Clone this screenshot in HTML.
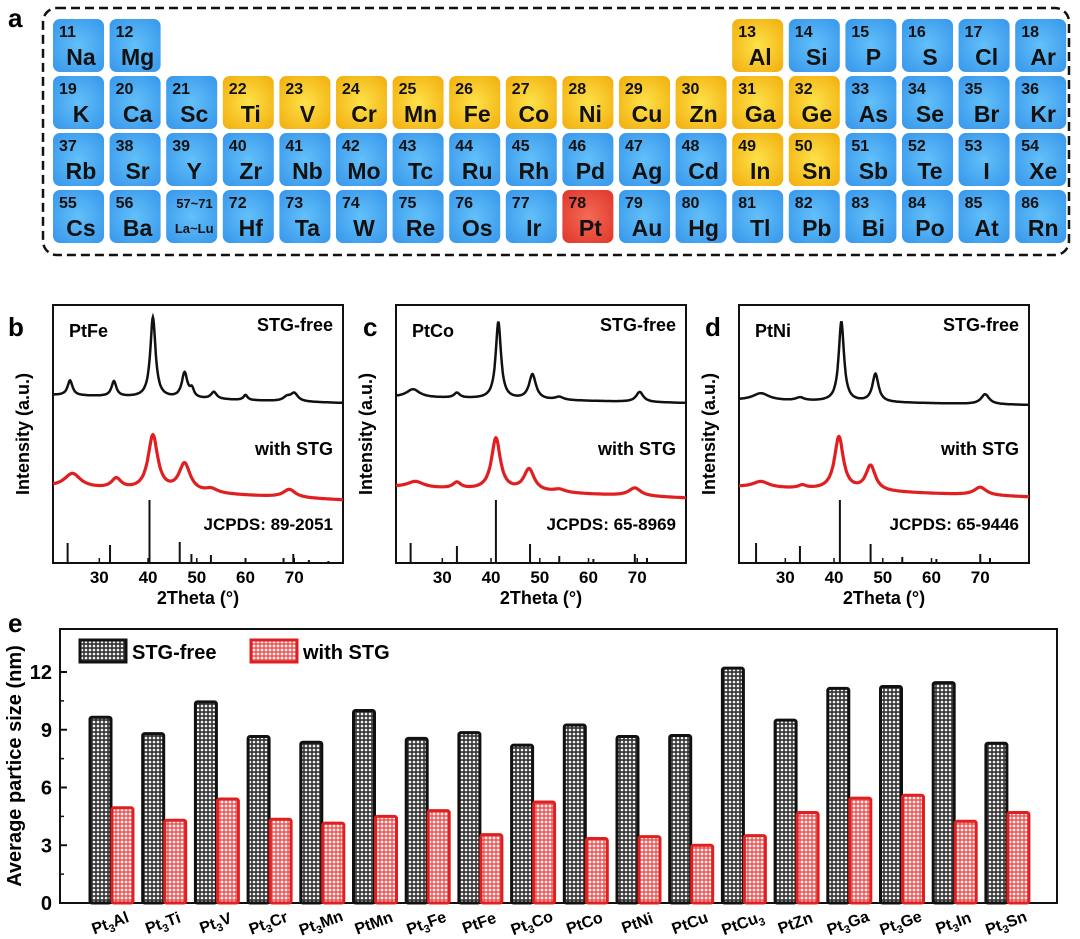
<!DOCTYPE html>
<html><head><meta charset="utf-8"><style>
body{margin:0;background:#fff;}
svg{display:block;font-family:"Liberation Sans",Arial,sans-serif;font-weight:bold;}
</style></head><body>
<svg id="fig" width="1080" height="939" viewBox="0 0 1080 939" xmlns="http://www.w3.org/2000/svg">
<defs>
<radialGradient id="gBlue" cx="50%" cy="50%" r="70%"><stop offset="0" stop-color="#62c0fa"/><stop offset="1" stop-color="#3796ea"/></radialGradient>
<radialGradient id="gYel" cx="50%" cy="50%" r="70%"><stop offset="0" stop-color="#fde24a"/><stop offset="1" stop-color="#f2ad0c"/></radialGradient>
<radialGradient id="gRed" cx="50%" cy="50%" r="70%"><stop offset="0" stop-color="#f26a56"/><stop offset="1" stop-color="#e0362a"/></radialGradient>
<pattern id="pBlack" width="4" height="4" patternUnits="userSpaceOnUse"><rect width="4" height="4" fill="#3a3a3a"/><circle cx="2" cy="2" r="1.3" fill="#f4f4f4"/></pattern>
<pattern id="pRed" width="4" height="4" patternUnits="userSpaceOnUse"><rect width="4" height="4" fill="#ec5a5a"/><circle cx="2" cy="2" r="1.4" fill="#fff0f0"/></pattern>
</defs>
<g id="ptable">
<rect x="43" y="8" width="1026" height="247" rx="14" fill="none" stroke="#111" stroke-width="2.5" stroke-dasharray="9,5"/>
</g>
<text x="8" y="27" font-size="26">a</text>
<text x="8" y="336" font-size="26">b</text>
<text x="363" y="336" font-size="26">c</text>
<text x="705" y="336" font-size="26">d</text>
<text x="8" y="632" font-size="26">e</text>
<g id="xrd"></g>
<g id="bars"></g>
</svg>
<script>
const NS="http://www.w3.org/2000/svg";
function mk(tag,attrs,parent){const e=document.createElementNS(NS,tag);for(const k in attrs)e.setAttribute(k,attrs[k]);parent.appendChild(e);return e;}

/* ---------- periodic table ---------- */
const elNums=[11,12,13,14,15,16,17,18,19,20,21,22,23,24,25,26,27,28,29,30,31,32,33,34,35,36,37,38,39,40,41,42,43,44,45,46,47,48,49,50,51,52,53,54,55,56,"57~71",72,73,74,75,76,77,78,79,80,81,82,83,84,85,86];
const elSyms=["Na","Mg","Al","Si","P","S","Cl","Ar","K","Ca","Sc","Ti","V","Cr","Mn","Fe","Co","Ni","Cu","Zn","Ga","Ge","As","Se","Br","Kr","Rb","Sr","Y","Zr","Nb","Mo","Tc","Ru","Rh","Pd","Ag","Cd","In","Sn","Sb","Te","I","Xe","Cs","Ba","La~Lu","Hf","Ta","W","Re","Os","Ir","Pt","Au","Hg","Tl","Pb","Bi","Po","At","Rn"];
const yellowSet=["Al","Ti","V","Cr","Mn","Fe","Co","Ni","Cu","Zn","Ga","Ge","In","Sn"];
const ptG=document.getElementById('ptable');
const rowY=[19,76,133,190];
elSyms.forEach((s,i)=>{
  let row,col;
  if(i<2){row=0;col=i;}else if(i<8){row=0;col=i+10;}else{row=1+Math.floor((i-8)/18);col=(i-8)%18;}
  const x=53+col*56.6,y=rowY[row];
  const g=mk('g',{},ptG);
  
  
  const fill=s==="Pt"?"url(#gRed)":(yellowSet.includes(s)?"url(#gYel)":"url(#gBlue)");
  mk('rect',{x:x,y:y,width:51,height:53,rx:7,fill:fill},g);
  const small=s==="La~Lu";
  const n=mk('text',{x:x+(small?10:6),y:y+18,'font-size':small?13:16,fill:'#111'},g);n.textContent=elNums[i];
  const t=mk('text',{x:x+28,y:y+(small?43:46),'font-size':small?13:23,'text-anchor':'middle',fill:'#111'},g);t.textContent=s;
});

/* ---------- XRD panels ---------- */
const xrdNames=["PtFe","PtCo","PtNi"];
const xrdCards=["JCPDS: 89-2051","JCPDS: 65-8969","JCPDS: 65-9446"];
const xrdLefts=[53,396,739];
const blackBase=[[168,160],[166,160],[163,158]];
const redBase=[[76,63],[76,65],[76,66]];
const blackPeaks=[
 [[24,15,0.6],[33,15,0.6],[41,80,0.65],[47.5,25,0.7],[49,8,0.5],[53.5,7,0.7],[60,5,0.5],[68.5,4,0.9],[70,8,0.9]],
 [[24,8,1.6],[33,5,0.7],[41.5,77,0.65],[48.5,25,0.85],[54,3,1],[70.5,10,0.9]],
 [[25,7,2],[33,3,1],[41.5,80,0.65],[48.5,28,0.75],[71,10,1.0]]];
const redPeaks=[
 [[24.5,14,2.0],[33.5,10,1.2],[41,55,1.2],[47.5,28,1.4],[53,4,1.5],[69,8,1.5]],
 [[24.5,6,2],[33,6,1],[41,52,1.1],[47.8,22,1.3],[54,3,1.5],[69.5,8,1.5]],
 [[25,6,2],[33.5,3,1],[41,53,1.1],[47.5,25,1.2],[70,8,1.5]]];
const refLines=[
 [[23.5,20],[32.2,18],[40.3,63],[46.5,21],[48.9,9],[52.9,8],[60,5],[67.8,5],[69.8,9],[73,3],[77,2]],
 [[23.5,20],[33,17],[41,63],[48,19],[54,7],[61,4],[69.5,9],[72,5]],
 [[24,20],[33,17],[41.2,63],[47.5,19],[54,6],[61,4],[70,9],[72,5]]];
const xTicks=[30,40,50,60,70];
const xrdG=document.getElementById('xrd');
const T0=20.5,T1=80,FW=290,FT=305,FB=563;
function curve(base,peaks,t){let v=base[0]+(base[1]-base[0])*(t-T0)/(T1-T0);peaks.forEach(p=>{v+=p[1]/(1+Math.pow((t-p[0])/p[2],2));});return v;}
xrdNames.forEach((nm,k)=>{
  const L=xrdLefts[k];
  const sx=t=>L+(t-T0)/(T1-T0)*FW;
  const sy=v=>FB-v;
  const g=mk('g',{},xrdG);
  
  
  const fr=mk('rect',{x:L,y:FT,width:FW,height:FB-FT,fill:'none',stroke:'#111','stroke-width':2},g);
  
  [[blackBase[k],blackPeaks[k],'#111','stg-free-curve'],[redBase[k],redPeaks[k],'#e02020','with-stg-curve']].forEach(c=>{
    let d='';for(let t=T0;t<=T1+0.001;t+=0.1){d+=(d?'L':'M')+sx(t).toFixed(1)+','+sy(curve(c[0],c[1],t)).toFixed(1);}
    const p=mk('path',{d:d,fill:'none',stroke:c[2],'stroke-width':c[2]==='#111'?2.5:3.2},g);
    
  });
  refLines[k].forEach(r=>{
    const l=mk('line',{x1:sx(r[0]),x2:sx(r[0]),y1:FB,y2:sy(r[1]),stroke:'#111','stroke-width':2},g);
    
  });
  xTicks.forEach(t=>{
    mk('line',{x1:sx(t),x2:sx(t),y1:FB,y2:FB-5,stroke:'#111','stroke-width':1.5},g);
    const tx=mk('text',{x:sx(t),y:FB+20,'font-size':17,'text-anchor':'middle'},g);tx.textContent=t;
    
  });
  const a=mk('text',{x:L+16,y:337,'font-size':18},g);a.textContent=nm;
  const b=mk('text',{x:L+FW-10,y:331,'font-size':18,'text-anchor':'end'},g);b.textContent='STG-free';
  const c=mk('text',{x:L+FW-10,y:455,'font-size':18,'text-anchor':'end'},g);c.textContent='with STG';
  const j=mk('text',{x:L+FW-10,y:530,'font-size':17,'text-anchor':'end'},g);j.textContent=xrdCards[k];
  const xt=mk('text',{x:L+FW/2,y:604,'font-size':18,'text-anchor':'middle'},g);xt.textContent='2Theta (°)';
  const yt=mk('text',{x:0,y:0,'font-size':18,'text-anchor':'middle',transform:`translate(${L-24},434) rotate(-90)`},g);yt.textContent='Intensity (a.u.)';
});

/* ---------- bar chart e ---------- */
const categories=[["Pt","3","Al"],["Pt","3","Ti"],["Pt","3","V"],["Pt","3","Cr"],["Pt","3","Mn"],["PtMn","",""],["Pt","3","Fe"],["PtFe","",""],["Pt","3","Co"],["PtCo","",""],["PtNi","",""],["PtCu","",""],["PtCu","3",""],["PtZn","",""],["Pt","3","Ga"],["Pt","3","Ge"],["Pt","3","In"],["Pt","3","Sn"]];
const stgFree=[9.65,8.8,10.45,8.65,8.35,10.0,8.55,8.85,8.2,9.25,8.65,8.7,12.2,9.5,11.15,11.25,11.45,8.3];
const withStg=[4.95,4.3,5.4,4.35,4.15,4.5,4.8,3.55,5.25,3.35,3.45,3.0,3.5,4.7,5.45,5.6,4.25,4.7];
const yTicks=[0,3,6,9,12];
const bG=document.getElementById('bars');
const PL=60,PR=1057,PT=629,PB=903;
const ys=v=>PB-v*(PB-672)/12;
const gx=i=>90+i*52.7;
const fr=mk('rect',{x:PL,y:PT,width:PR-PL,height:PB-PT,fill:'none',stroke:'#111','stroke-width':2},bG);

yTicks.forEach(v=>{
  mk('line',{x1:PL,x2:PL+7,y1:ys(v),y2:ys(v),stroke:'#111','stroke-width':2},bG);
  const t=mk('text',{x:PL-8,y:ys(v)+7,'font-size':20,'text-anchor':'end'},bG);t.textContent=v;
  
});
for(let v=1.5;v<13.5;v+=3)mk('line',{x1:PL,x2:PL+4,y1:ys(v),y2:ys(v),stroke:'#111','stroke-width':1.5},bG);
categories.forEach((c,i)=>{
  const x=gx(i);
  const b1=mk('rect',{x:x,y:ys(stgFree[i]),width:21,height:PB-ys(stgFree[i]),fill:'url(#pBlack)',stroke:'#111','stroke-width':3,rx:2},bG);
  
  const b2=mk('rect',{x:x+22,y:ys(withStg[i]),width:21,height:PB-ys(withStg[i]),fill:'url(#pRed)',stroke:'#e02020','stroke-width':3,rx:2},bG);
  
  const t=mk('text',{x:0,y:0,'font-size':16,'text-anchor':'middle',transform:`translate(${x+22},${928}) rotate(-20)`},bG);
  
  const s1=mk('tspan',{},t);s1.textContent=c[0];
  if(c[1]){const s2=mk('tspan',{dy:4,'font-size':11},t);s2.textContent=c[1];}
  if(c[2]){const s3=mk('tspan',{dy:-4},t);s3.textContent=c[2];}
});
const yt=mk('text',{x:0,y:0,'font-size':20,'text-anchor':'middle',transform:`translate(21,766) rotate(-90)`},bG);yt.textContent='Average partice size (nm)';

const lg=mk('g',{},bG);
const l1=mk('rect',{x:80,y:640,width:46,height:22,fill:'url(#pBlack)',stroke:'#111','stroke-width':3},lg);
const lt1=mk('text',{x:132,y:659,'font-size':20},lg);lt1.textContent='STG-free';
const l2=mk('rect',{x:251,y:640,width:46,height:22,fill:'url(#pRed)',stroke:'#e02020','stroke-width':3},lg);
const lt2=mk('text',{x:303,y:659,'font-size':20},lg);lt2.textContent='with STG';
</script>
</body></html>
